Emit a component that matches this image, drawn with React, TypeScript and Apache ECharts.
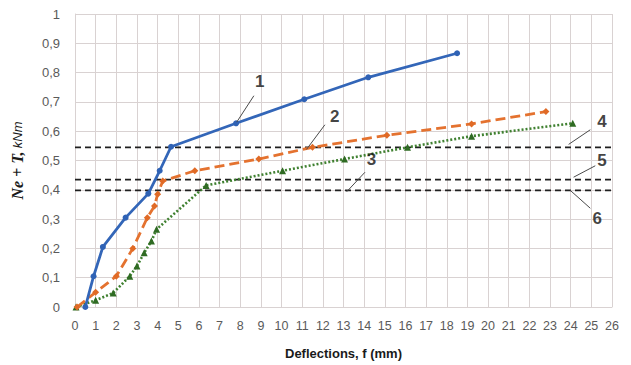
import React, { useEffect, useRef } from "react";
import * as echarts from "echarts";

// Curve 1 (blue, solid, circles)
const curve1: [number, number][] = [
  [0.5, 0], [0.9, 0.105], [1.35, 0.205], [2.45, 0.305], [3.55, 0.387], [4.1, 0.465],
  [4.65, 0.547], [7.8, 0.627], [11.1, 0.709], [14.2, 0.784], [18.5, 0.866],
];
// Curve 2 (orange, dashed, diamonds)
const curve2: [number, number][] = [
  [0.1, 0], [1.0, 0.05], [2.0, 0.105], [2.8, 0.2], [3.5, 0.305], [3.85, 0.345], [4.0, 0.385],
  [4.25, 0.43], [5.8, 0.465], [8.9, 0.505], [11.5, 0.545], [15.1, 0.586], [19.2, 0.625], [22.8, 0.667],
];
// Curve 3 (green, dotted, triangles)
const curve3: [number, number][] = [
  [0.05, 0], [1.0, 0.023], [1.85, 0.048], [2.65, 0.105], [3.0, 0.14], [3.35, 0.185], [3.7, 0.225],
  [3.95, 0.265], [6.35, 0.415], [10.05, 0.465], [13.05, 0.505], [16.1, 0.545], [19.2, 0.583], [24.1, 0.627],
];
// Horizontal reference levels 4, 5, 6
const refLevels = [0.545, 0.435, 0.398];
const refRange = [0, 26];

// Annotation numbers: label position and leader line ends (data coords)
const annoNames = ["1", "2", "3", "4", "5", "6"];
const annoLabelPos: [number, number][] = [
  [8.95, 0.768], [12.58, 0.651], [14.36, 0.504], [25.52, 0.633], [25.52, 0.499], [25.28, 0.303],
];
const annoLeaderFrom: [number, number][] = [
  [8.66, 0.721], [12.1, 0.622], [14.04, 0.46], [24.95, 0.605], [25.19, 0.482], [24.95, 0.337],
];
const annoLeaderTo: [number, number][] = [
  [7.83, 0.631], [11.21, 0.538], [13.15, 0.393], [23.9, 0.555], [24.14, 0.443], [23.98, 0.398],
];

const xAxisRange = { min: 0, max: 26, interval: 1 };
const yAxisRange = { min: 0, max: 1, interval: 0.1 };

export default function App() {
  const ref = useRef<HTMLDivElement>(null);
  useEffect(() => {
    document.body.style.margin = "0";
    const chart = echarts.init(ref.current!, null, { renderer: "svg" });
    const gridColor = "#d9d2d2";
    const series: any[] = [];

    refLevels.forEach((lv) => {
      series.push({
        type: "line",
        data: [[refRange[0], lv], [refRange[1], lv]],
        symbol: "none",
        lineStyle: { color: "#1f1f1f", width: 1.8, type: [6, 4] },
        z: 2,
      });
    });

    series.push({
      type: "line",
      data: curve3,
      symbol: "triangle",
      symbolSize: 7,
      itemStyle: { color: "#2f6b23" },
      lineStyle: { color: "#3f8030", width: 2.6, type: [2, 2], cap: "butt" },
      z: 3,
    });
    series.push({
      type: "line",
      data: curve2,
      symbol: "diamond",
      symbolSize: 7,
      itemStyle: { color: "#e06a26" },
      lineStyle: { color: "#e4722f", width: 2.8, type: [10, 5] },
      z: 4,
    });
    series.push({
      type: "line",
      data: curve1,
      symbol: "circle",
      symbolSize: 6,
      itemStyle: { color: "#2f62b5" },
      lineStyle: { color: "#3366b8", width: 2.8 },
      z: 5,
    });

    annoNames.forEach((_, i) => {
      series.push({
        type: "line",
        data: [annoLeaderFrom[i], annoLeaderTo[i]],
        symbol: "none",
        lineStyle: { color: "#4a4a4a", width: 1 },
        z: 6,
      });
    });
    series.push({
      type: "scatter",
      data: annoNames.map((n, i) => ({ name: n, value: annoLabelPos[i] })),
      symbolSize: 1,
      itemStyle: { color: "rgba(0,0,0,0)" },
      label: {
        show: true,
        position: "inside",
        formatter: "{b}",
        fontFamily: "Liberation Sans",
        fontWeight: "bold",
        fontSize: 17,
        color: "#111111",
      },
      z: 7,
    });

    chart.setOption({
      animation: false,
      backgroundColor: "#ffffff",
      grid: { left: 75, right: 19, top: 14, bottom: 53, show: false },
      xAxis: {
        type: "value",
        ...xAxisRange,
        name: "Deflections, f (mm)",
        nameLocation: "middle",
        nameGap: 40,
        nameTextStyle: { fontFamily: "Liberation Sans", fontWeight: "bold", fontSize: 13, color: "#1a1a1a" },
        axisLine: { show: true, lineStyle: { color: gridColor } },
        axisTick: { show: false },
        axisLabel: { fontFamily: "Liberation Sans", fontSize: 12.5, color: "#5a5a5a", margin: 12, interval: 0 },
        splitLine: { show: true, lineStyle: { color: gridColor, width: 1 } },
      },
      yAxis: {
        type: "value",
        ...yAxisRange,
        name: "{b|Ne + T,} {i|kNm}",
        nameLocation: "middle",
        nameRotate: 90,
        nameGap: 50,
        nameTextStyle: {
          rich: {
            b: { fontFamily: "Liberation Serif", fontWeight: "bold", fontStyle: "italic", fontSize: 16, color: "#1a1a1a" },
            i: { fontFamily: "Liberation Sans", fontStyle: "italic", fontSize: 13, color: "#1a1a1a" },
          },
        },
        axisLine: { show: true, lineStyle: { color: gridColor } },
        axisTick: { show: false },
        axisLabel: {
          fontFamily: "Liberation Sans",
          fontSize: 13,
          color: "#5a5a5a",
          margin: 15,
          formatter: (v: number) => String(Math.round(v * 10) / 10).replace(".", ","),
        },
        splitLine: { show: true, lineStyle: { color: gridColor, width: 1 } },
      },
      series,
    });
    return () => chart.dispose();
  }, []);
  return <div ref={ref} style={{ width: 631, height: 365 }} />;
}
